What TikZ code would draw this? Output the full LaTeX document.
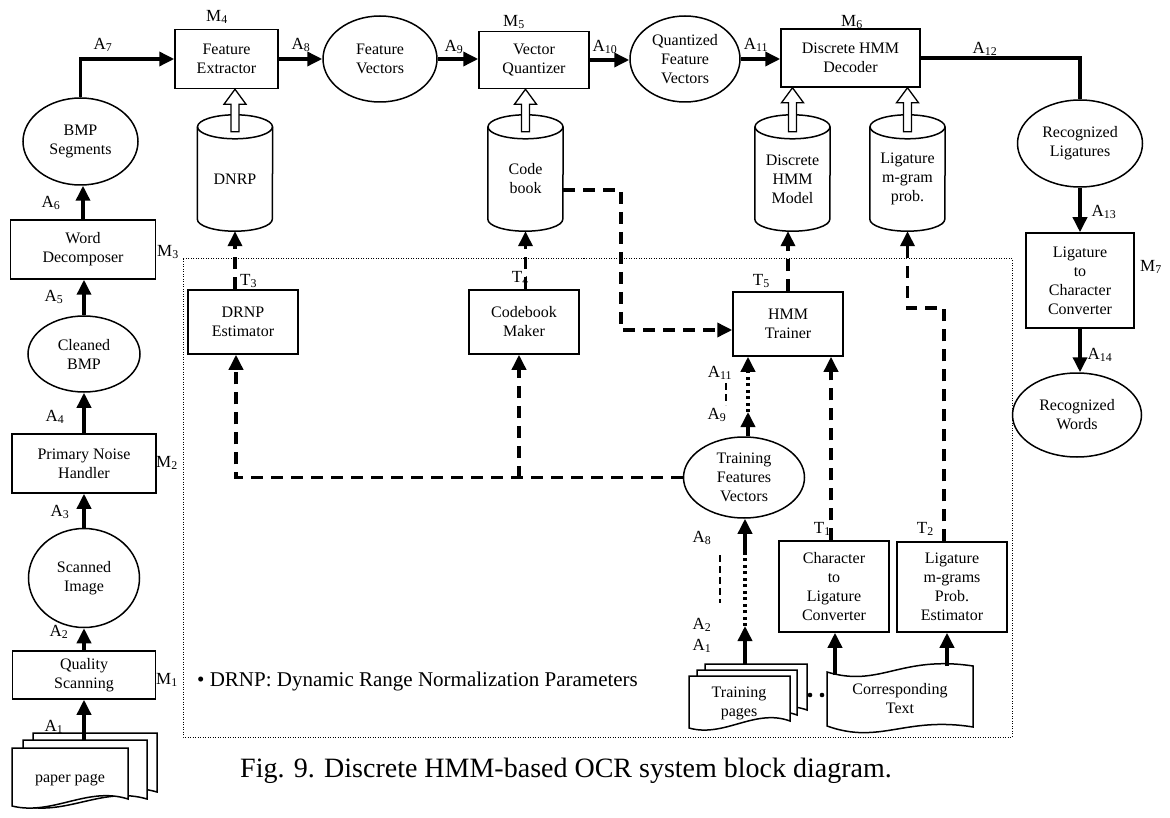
\documentclass[tikz,border=0pt]{standalone}
\usepackage{fontspec}
\setmainfont{Liberation Serif}
\usetikzlibrary{shapes.geometric,arrows.meta,calc}

\newcommand{\blockfont}{\fontsize{16}{19}\selectfont}
% one sheet of a document, x y w h
\newcommand{\docsheet}[4]{%
  \draw[sheet] (#1,#2) -- (#1+#3,#2) -- (#1+#3,#2+#4-7)
    .. controls (#1+0.65*#3,#2+#4-20) and (#1+0.35*#3,#2+#4+10) .. (#1,#2+#4) -- cycle;}
% hollow arrow from a base point up to a tip point
\newcommand{\hollowup}[2]{%
  \draw[hollow] let \p1=(#1), \p2=(#2) in
    (\x1-4pt,\y1) -- (\x1-4pt,\y2-15pt) -- (\x1-11pt,\y2-15pt) -- (\x1,\y2)
    -- (\x1+11pt,\y2-15pt) -- (\x1+4pt,\y2-15pt) -- (\x1+4pt,\y1) -- cycle;}

\begin{document}
\begin{tikzpicture}[x=1pt,y=-1pt,
  block/.style={draw, line width=1.5pt, align=center, inner sep=0pt, font=\blockfont},
  blob/.style={ellipse, draw, line width=1.5pt, align=center, inner sep=0pt, font=\blockfont},
  drum/.style={minimum width=75pt, minimum height=104pt, align=center, inner sep=0pt, font=\blockfont},
  doctext/.style={align=center, inner sep=0pt, font=\blockfont},
  drumline/.style={line width=1.5pt},
  sheet/.style={line width=1.5pt, fill=white},
  hollow/.style={line width=1.3pt, fill=white},
  link/.style={line width=3.5pt},
  flow/.style={link, -{Triangle[length=15pt,width=14pt]}},
  feed/.style={flow, dash pattern=on 12pt off 8pt},
  dotflow/.style={flow, dash pattern=on 3pt off 3.5pt},
  span/.style={line width=1.2pt, dash pattern=on 7pt off 4pt},
  tag/.style={font=\fontsize{17}{20}\selectfont, inner sep=0pt}]
\useasboundingbox (0,0) rectangle (1170,818);

% training part frame
\draw[line width=1pt, dash pattern=on 1pt off 1.5pt] (183,259) rectangle (1012,737);

% left column
\docsheet{33}{733}{124}{66}
\docsheet{23}{740}{124}{66}
\docsheet{12}{748}{116}{58}
\node[doctext] (pp) at (70,780) {paper page};
\coordinate (pptop) at (84,740);
\node[block, minimum width=143pt, minimum height=48pt] (qs) at (84,675) {Quality\\Scanning};
\node[blob, minimum width=111pt, minimum height=99pt] (si) at (84,578) {Scanned\\Image};
\node[block, minimum width=144pt, minimum height=59pt] (pnh) at (84,463.5) {Primary Noise\\Handler};
\node[blob, minimum width=112pt, minimum height=76pt] (cbmp) at (84,354) {Cleaned\\BMP};
\node[block, minimum width=145pt, minimum height=59pt] (wd) at (83,249.5) {Word\\Decomposer};
\node[blob, minimum width=115pt, minimum height=87pt] (bmps) at (80.5,141.5) {BMP\\Segments};

% top row
\node[block, minimum width=103pt, minimum height=59pt] (fe) at (226.5,59) {Feature\\Extractor};
\node[blob, minimum width=114pt, minimum height=86pt] (fv) at (380,59) {Feature\\Vectors};
\node[block, minimum width=110pt, minimum height=57pt] (vq) at (534,60) {Vector\\Quantizer};
\node[blob, minimum width=110pt, minimum height=86pt] (qfv) at (685,59) {Quantized\\Feature\\Vectors};
\node[block, minimum width=139pt, minimum height=58pt] (dec) at (850.5,58) {Discrete HMM\\Decoder};

% right column
\node[blob, minimum width=125pt, minimum height=87pt] (rl) at (1080,143.5) {Recognized\\Ligatures};
\node[block, minimum width=108pt, minimum height=95pt] (l2c) at (1080,280.5) {Ligature\\to\\Character\\Converter};
\node[blob, minimum width=129pt, minimum height=84pt] (rw) at (1077,415) {Recognized\\Words};

% data stores
\node[drum] (dnrp) at (235,179) {DNRP};
\node[drum] (cb) at (525.5,179) {Code\\book};
\node[drum] (hmm) at (792.5,179) {Discrete\\HMM\\Model};
\node[drum] (lig) at (907.5,179) {Ligature\\m-gram\\prob.};
\foreach \c in {dnrp,cb,hmm,lig}{
  \draw[drumline] (\c.north) ellipse[x radius=37.5pt, y radius=12pt];
  \draw[drumline] (\c.north west) -- ($(\c.south west)+(0,-12)$)
    arc[start angle=180, end angle=360, x radius=37.5pt, y radius=12pt] -- (\c.north east);
}

% training blocks
\node[block, minimum width=110pt, minimum height=64pt] (estim) at (243,322) {DRNP\\Estimator};
\node[block, minimum width=110pt, minimum height=64pt] (cbm) at (524,322) {Codebook\\Maker};
\node[block, minimum width=110pt, minimum height=64pt] (trainer) at (788,324) {HMM\\Trainer};
\node[blob, minimum width=121pt, minimum height=81pt] (tfv) at (744,477.5) {Training\\Features\\Vectors};
\node[block, minimum width=110pt, minimum height=91pt] (c2l) at (834,586.5) {Character\\to\\Ligature\\Converter};
\node[block, minimum width=110pt, minimum height=90pt] (lme) at (952,587) {Ligature\\m-grams\\Prob.\\Estimator};

\docsheet{705}{664}{102}{53}
\docsheet{697}{670}{100}{52}
\docsheet{689}{676}{101}{52}
\node[doctext] (tp) at (739,703) {Training\\pages};
\coordinate (tptop) at (745,664);
\fill (810,695) circle[radius=2.3pt];
\fill (822,695) circle[radius=2.3pt];
\draw[sheet] (827,672) .. controls (880,688) and (900,655) .. (973,666) -- (973,727)
  .. controls (905,716) and (880,745) .. (827,726) -- cycle;
\node[doctext] (ct) at (900,699) {Corresponding\\Text};
\coordinate (ctup1) at (835,675);
\coordinate (ctup2) at (947,666);

% main flow
\draw[flow] (pptop) -- (pptop |- qs.south);
\draw[flow] (qs.north) -- (si.south);
\draw[flow] (si.north) -- (pnh.south);
\draw[flow] (pnh.north) -- (cbmp.south);
\draw[flow] (cbmp.north) -- (cbmp.north |- wd.south);
\draw[flow] (wd.north) -- (wd.north |- bmps.south);
\draw[flow] (bmps.north) |- (fe.west);
\draw[flow] (fe.east) -- (fv.west);
\draw[flow] (fv.east) -- (fv.east -| vq.west);
\draw[flow] (vq.east) -- (vq.east -| qfv.west);
\draw[flow] (qfv.east) -- (qfv.east -| dec.west);
\draw[link] (dec.east) -| (rl.north);
\draw[flow] (rl.south) -- (l2c.north);
\draw[flow] (l2c.south) -- (l2c.south |- rw.north);

% stores feeding the modules
\hollowup{[yshift=-5pt]dnrp.north}{dnrp.north |- fe.south}
\hollowup{[yshift=-5pt]cb.north}{cb.north |- vq.south}
\hollowup{[yshift=-5pt]hmm.north}{hmm.north |- dec.south}
\hollowup{[yshift=-5pt]lig.north}{lig.north |- dec.south}

% training flow
\draw[feed] (estim.north -| dnrp.south) -- (dnrp.south);
\draw[feed] (cbm.north -| cb.south) -- (cb.south);
\draw[feed] (trainer.north) -- (trainer.north |- hmm.south);
\draw[feed] ([yshift=-11pt]cb.east) -- ++(58,0) |- ([yshift=-6pt]trainer.west);
\coordinate (estin) at ([xshift=-7pt]estim.south);
\coordinate (cbmin) at ([xshift=-5pt]cbm.south);
\draw[feed] (tfv.west) -- (estin |- tfv.west) -- (estin);
\draw[feed] (cbmin |- tfv.west) -- (cbmin);
\coordinate (c2lout) at ([xshift=-3pt]c2l.north);
\draw[feed] (c2lout) -- (c2lout |- trainer.south);
\coordinate (lmeout) at ([xshift=-8pt]lme.north);
\draw[feed] (lmeout) -- ++(0,-233) -| (lig.south);
\coordinate (tfvmid) at (748,412);
\draw[flow] (tfv.north -| tfvmid) -- (tfvmid);
\draw[dotflow] (tfvmid) -- (tfvmid |- trainer.south);
\coordinate (tpmid) at (745,626);
\coordinate (tpdot) at (745,552);
\draw[flow] (tptop) -- (tpmid);
\draw[dotflow, -] (tpmid) -- (tpdot);
\draw[flow] (tpdot) -- (tpdot |- tfv.south);
\draw[flow] (ctup1) -- (ctup1 |- c2l.south);
\draw[flow] (ctup2) -- (ctup2 |- lme.south);

% labels
\node[tag] (a1) at (54,727) {A\textsubscript{1}};
\node[tag] (a2) at (59,632) {A\textsubscript{2}};
\node[tag] (a3) at (60,512) {A\textsubscript{3}};
\node[tag] (a4) at (55,417) {A\textsubscript{4}};
\node[tag] (a5) at (54,297) {A\textsubscript{5}};
\node[tag] (a6) at (51,203) {A\textsubscript{6}};
\node[tag] (a7) at (103,45) {A\textsubscript{7}};
\node[tag] (a8) at (301,45) {A\textsubscript{8}};
\node[tag] (a9) at (454,47) {A\textsubscript{9}};
\node[tag] (a10) at (605,47) {A\textsubscript{10}};
\node[tag] (a11) at (756,45) {A\textsubscript{11}};
\node[tag] (a12) at (985,49) {A\textsubscript{12}};
\node[tag] (a13) at (1104,212) {A\textsubscript{13}};
\node[tag] (a14) at (1100,355) {A\textsubscript{14}};
\node[tag] (a11b) at (720,373) {A\textsubscript{11}};
\node[tag] (a9b) at (717,415) {A\textsubscript{9}};
\node[tag] (a8b) at (702,538) {A\textsubscript{8}};
\node[tag] (a2b) at (702,625) {A\textsubscript{2}};
\node[tag] (a1b) at (702,646) {A\textsubscript{1}};
\draw[span] (726,383) -- (726,405);
\draw[span] (720,555) -- (720,603);

\node[tag, anchor=west] (m1) at (156,680) {M\textsubscript{1}};
\node[tag, anchor=west] (m2) at (156,463) {M\textsubscript{2}};
\node[tag, anchor=west] (m3) at (157,252) {M\textsubscript{3}};
\node[tag] (m4) at (217,17) {M\textsubscript{4}};
\node[tag] (m5) at (514,22) {M\textsubscript{5}};
\node[tag] (m6) at (852,22) {M\textsubscript{6}};
\node[tag, anchor=west] (m7) at (1140,267) {M\textsubscript{7}};

\node[tag, anchor=west] (t3) at (240,281) {T\textsubscript{3}};
\node[tag, anchor=east] (t4) at (529,278) {T\textsubscript{4}};
\node[tag, anchor=east] (t5) at (770,281) {T\textsubscript{5}};
\node[tag, anchor=east] (t1) at (831,529) {T\textsubscript{1}};
\node[tag, anchor=east] (t2) at (934,529) {T\textsubscript{2}};

\node[font=\fontsize{21}{24}\selectfont, anchor=west, inner sep=0pt] (note) at (197,681)
  {• DRNP: Dynamic Range Normalization Parameters};
\node[font=\fontsize{28}{33}\selectfont, anchor=west, inner sep=0pt] (caption) at (240,771)
  {Fig. 9. Discrete HMM-based OCR system block diagram.};
\end{tikzpicture}
\end{document}
